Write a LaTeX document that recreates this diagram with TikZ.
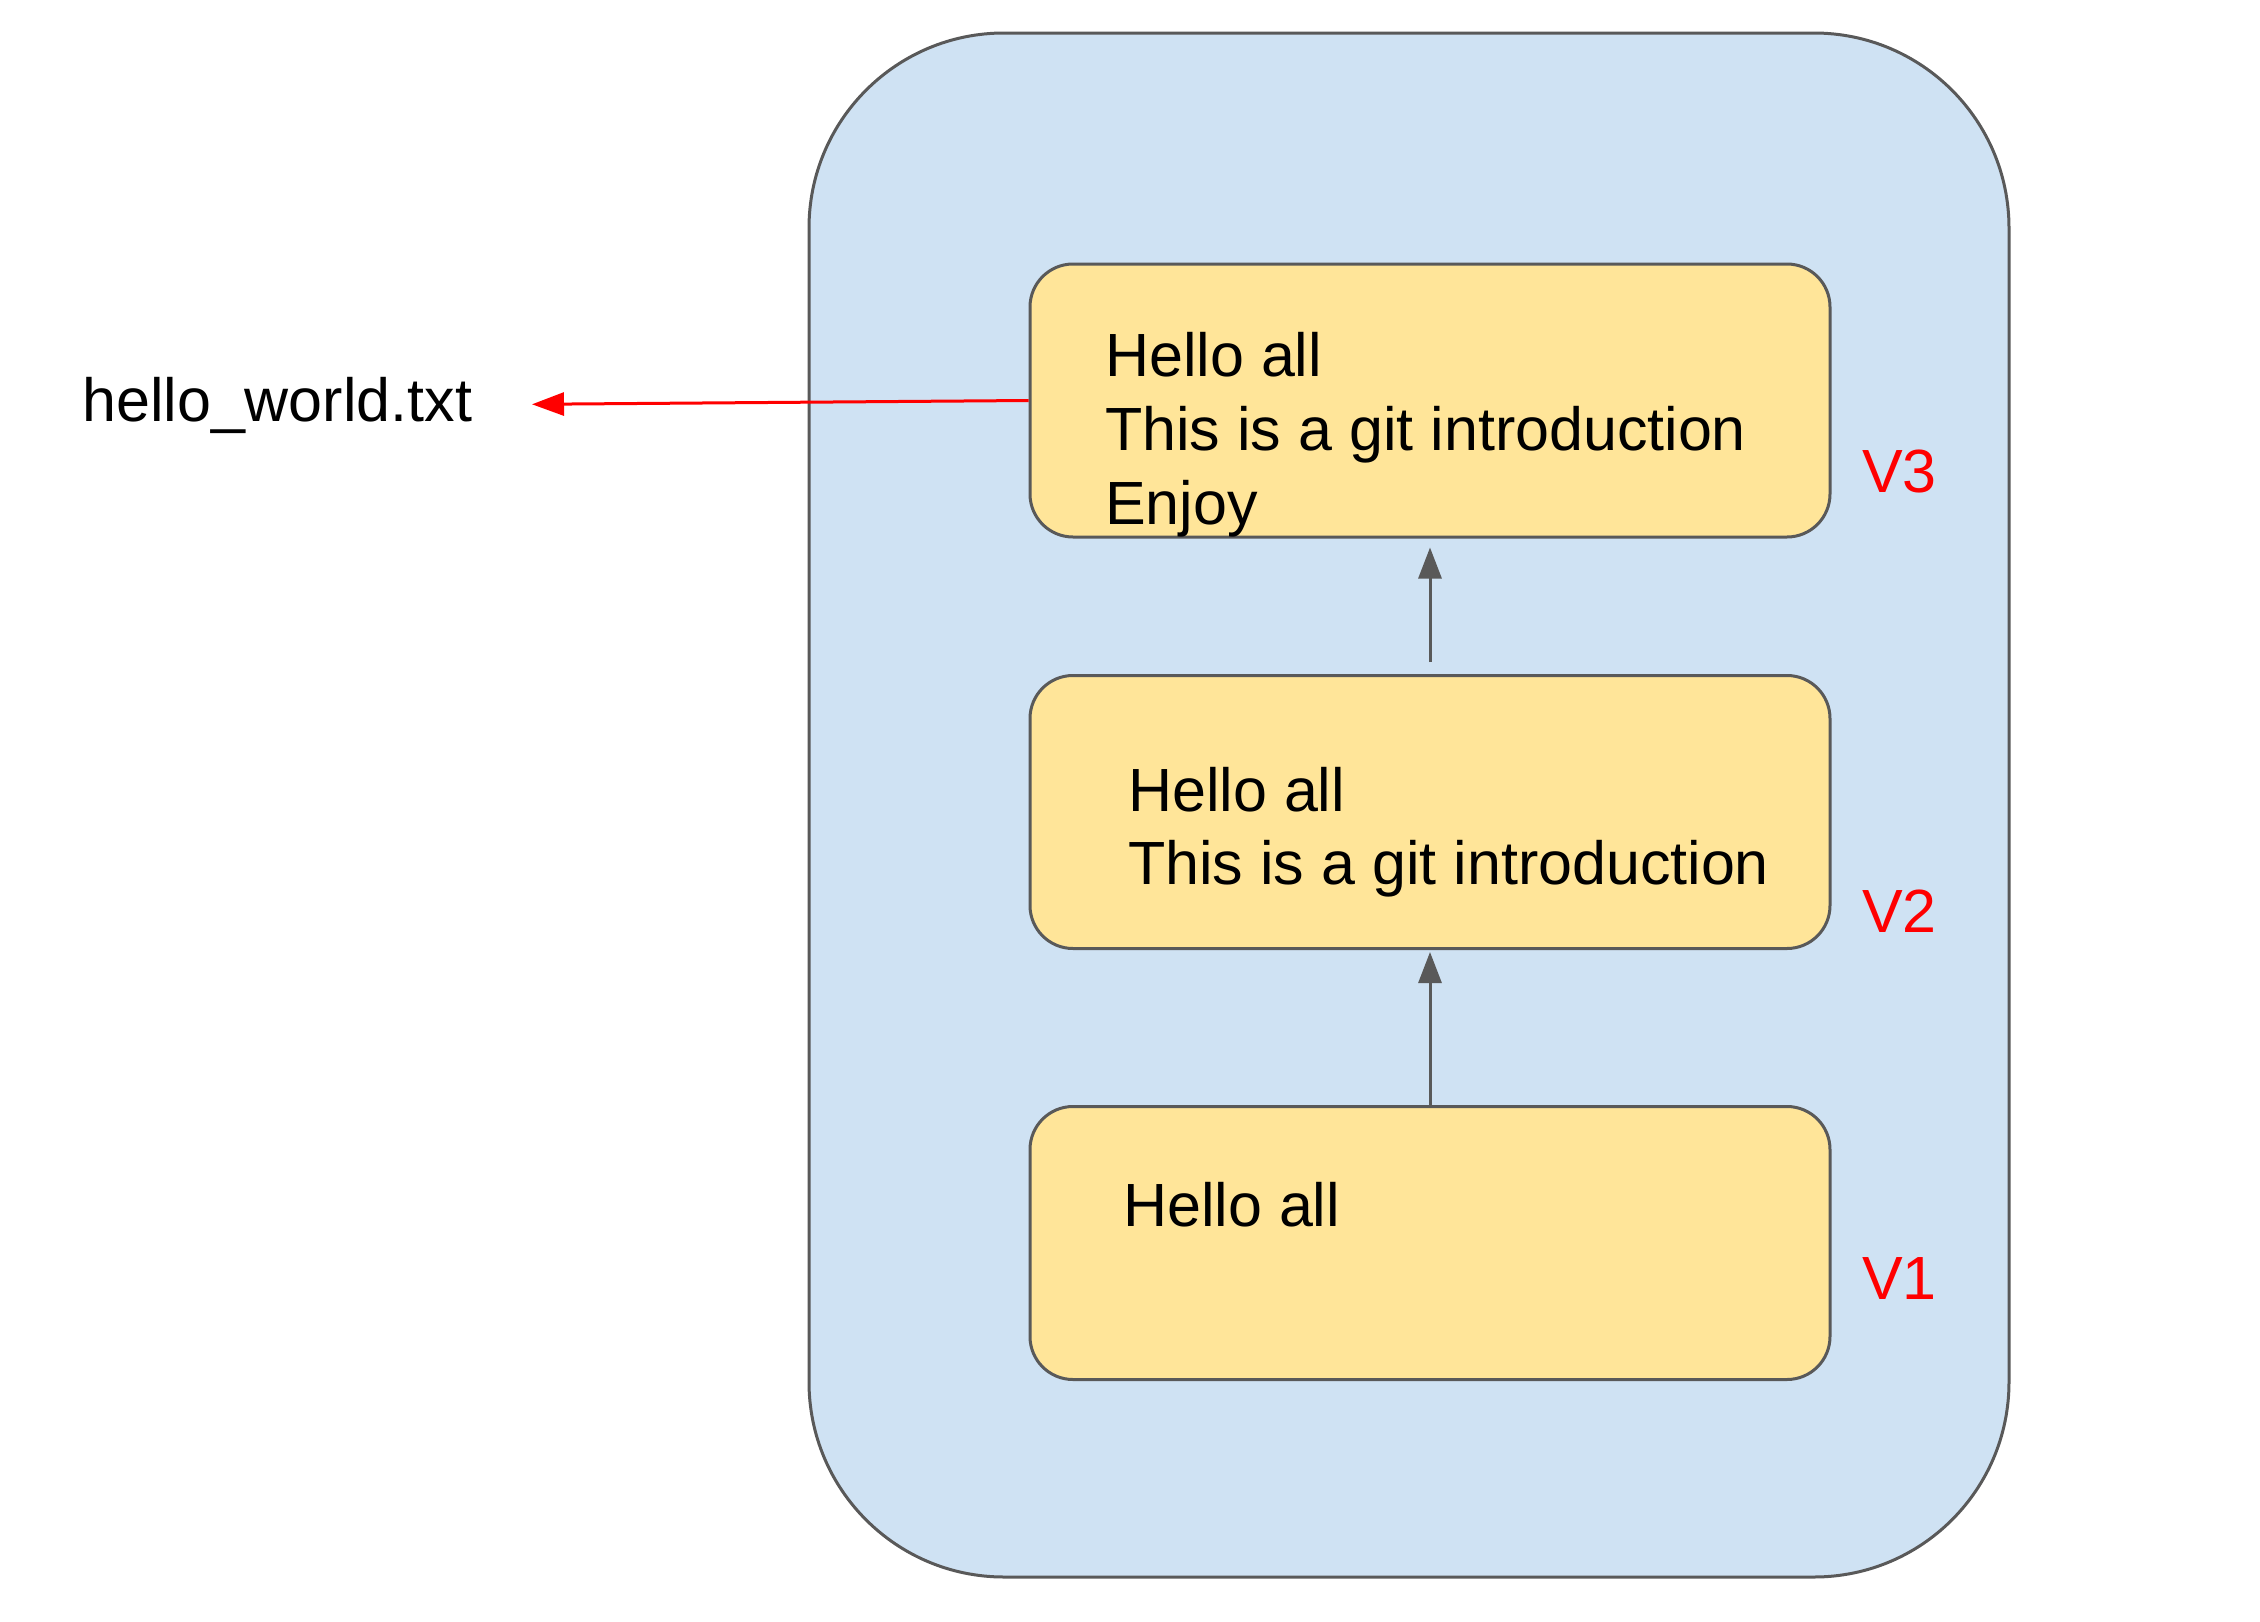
\documentclass[tikz,border=0pt]{standalone}
\usepackage{fontspec}
\setmainfont{Liberation Sans}
\usetikzlibrary{arrows.meta}
\definecolor{outerfill}{HTML}{CFE2F3}
\definecolor{boxfill}{HTML}{FFE599}
\definecolor{edge}{HTML}{595959}
\definecolor{vred}{HTML}{FF0000}
\begin{document}
\begin{tikzpicture}[x=1pt,y=-1pt,
  outerbox/.style={draw=edge,fill=outerfill,line width=3pt,rounded corners=195pt,minimum width=1200pt,minimum height=1544pt,inner sep=0pt},
  verbox/.style={draw=edge,fill=boxfill,line width=3pt,rounded corners=43pt,minimum width=800pt,minimum height=273pt,inner sep=0pt},
  txt/.style={anchor=base west,inner sep=0pt,font=\fontsize{61}{73.5}\selectfont},
  vlab/.style={txt,text=vred},
  garrow/.style={draw=edge,line width=3pt,-{Triangle[length=31pt,width=23pt]}},
  rarrow/.style={draw=vred,line width=3pt,-{Triangle[length=32pt,width=23pt]}}
]
\useasboundingbox (0,0) rectangle (2260,1622);
\node[outerbox] (outer) at (1409,805) {};
\node[verbox] (v3) at (1430,400.5) {};
\node[verbox] (v2) at (1430,812) {};
\node[verbox] (v1) at (1430,1243) {};

\node[txt] (v3a) at (1105,376.7) {Hello all};
\node[txt] (v3b) at (1105,450.5) {This is a git introduction};
\node[txt] (v3c) at (1105,524) {Enjoy};

\node[txt] (v2a) at (1128,811) {Hello all};
\node[txt] (v2b) at (1128,884.5) {This is a git introduction};

\node[txt] (v1a) at (1123,1226) {Hello all};

\node[vlab] (l3) at (1862,492) {V3};
\node[vlab] (l2) at (1862,932) {V2};
\node[vlab] (l1) at (1862,1299) {V1};

\node[txt] (file) at (82,421.7) {hello\_world.txt};
\coordinate (fileend) at (532,404.3);

\draw[garrow,shorten <=12pt,shorten >=9pt] (v2.north) -- (v3.south);
\draw[garrow,shorten >=2pt] (v1.north) -- (v2.south);
\draw[rarrow] (v3.west) -- (fileend);
\end{tikzpicture}
\end{document}
